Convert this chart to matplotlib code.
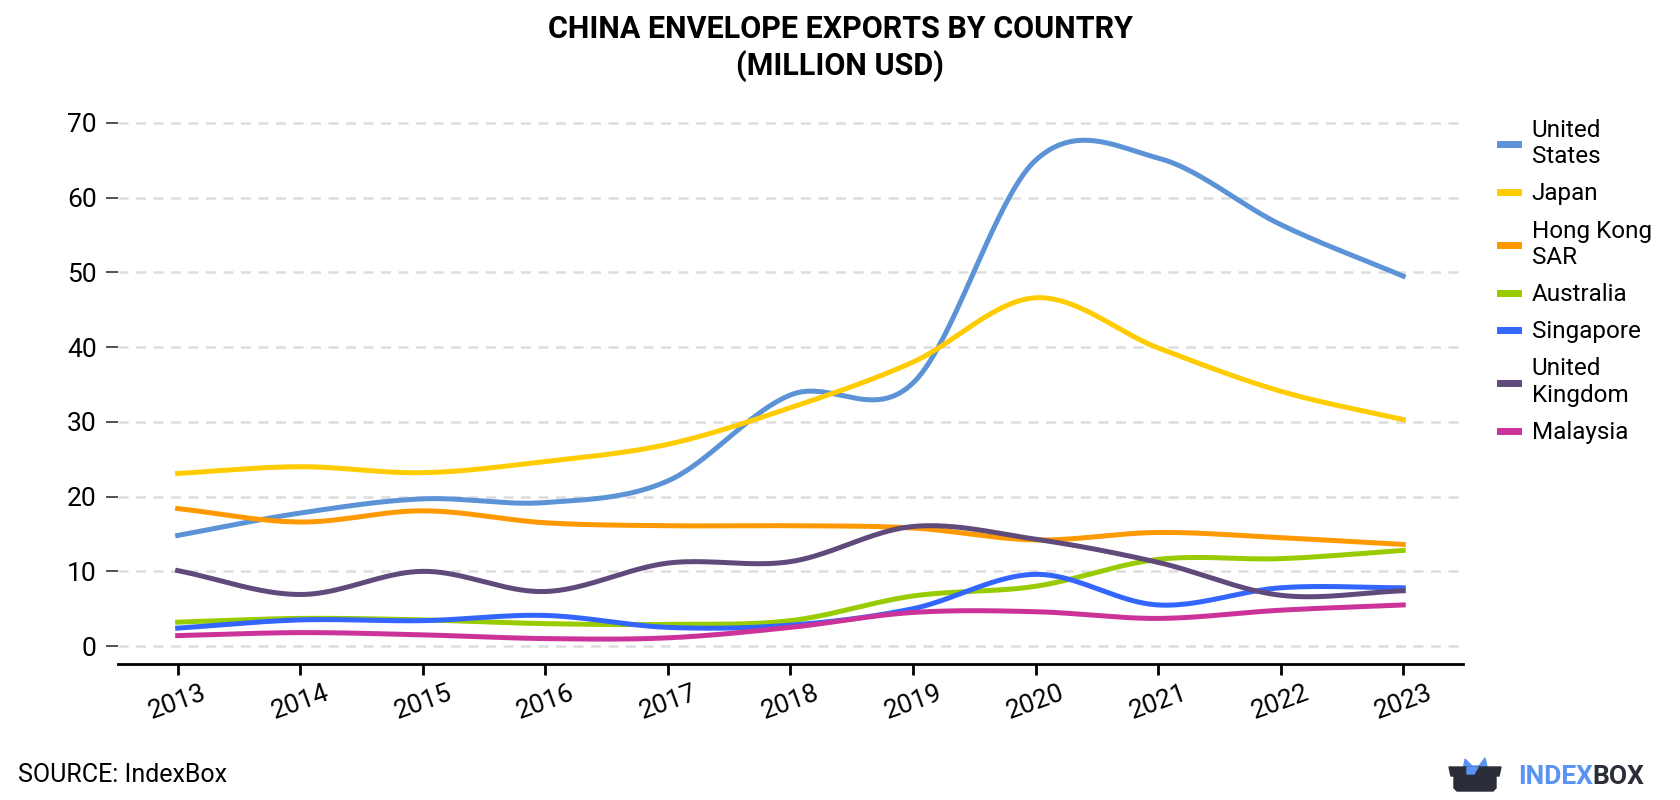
import numpy as np
import matplotlib
matplotlib.use('Agg')
import matplotlib.pyplot as plt
from matplotlib.patches import Polygon

plt.rcParams['font.family'] = ['Roboto', 'DejaVu Sans']

years = [2013, 2014, 2015, 2016, 2017, 2018, 2019, 2020, 2021, 2022, 2023]

united_states = [14.8, 17.8, 19.7, 19.2, 22.1, 33.6, 35.2, 65.0, 65.3, 56.4, 49.5]
japan = [23.1, 24.0, 23.2, 24.7, 27.0, 31.9, 38.0, 46.6, 39.9, 34.1, 30.3]
hong_kong = [18.4, 16.6, 18.1, 16.5, 16.1, 16.1, 15.8, 14.2, 15.2, 14.5, 13.6]
australia = [3.2, 3.7, 3.5, 3.0, 2.9, 3.4, 6.7, 8.0, 11.6, 11.7, 12.8]
singapore = [2.4, 3.5, 3.4, 4.1, 2.5, 2.8, 5.0, 9.6, 5.5, 7.8, 7.8]
united_kingdom = [10.1, 6.9, 10.0, 7.3, 11.1, 11.3, 16.0, 14.3, 11.2, 6.8, 7.4]
malaysia = [1.4, 1.8, 1.5, 1.0, 1.1, 2.5, 4.5, 4.6, 3.7, 4.8, 5.5]

labels = ['United\nStates', 'Japan', 'Hong Kong\nSAR', 'Australia',
          'Singapore', 'United\nKingdom', 'Malaysia']
colors = ['#5b93d6', '#ffcc00', '#ff9900', '#99cc00', '#3366ff', '#604a7b', '#cc3399']
series = [united_states, japan, hong_kong, australia, singapore, united_kingdom, malaysia]


def smooth(x, y, n=40):
    # catmull-rom style cubic hermite through the yearly points
    x = np.asarray(x, float)
    y = np.asarray(y, float)
    m = np.zeros_like(y)
    m[1:-1] = (y[2:] - y[:-2]) / (x[2:] - x[:-2])
    m[0] = y[1] - y[0]
    m[-1] = y[-1] - y[-2]
    xs_all, ys_all = [], []
    for i in range(len(x) - 1):
        h = x[i + 1] - x[i]
        t = np.linspace(0, 1, n, endpoint=(i == len(x) - 2))
        h00 = 2 * t**3 - 3 * t**2 + 1
        h10 = t**3 - 2 * t**2 + t
        h01 = -2 * t**3 + 3 * t**2
        h11 = t**3 - t**2
        xs_all.append(x[i] + t * h)
        ys_all.append(h00 * y[i] + h10 * h * m[i] + h01 * y[i + 1] + h11 * h * m[i + 1])
    return np.concatenate(xs_all), np.concatenate(ys_all)


fig = plt.figure(figsize=(16.8, 8), dpi=100)
ax = fig.add_axes([0.070, 0.17, 0.801, 0.695])

for vals, lab, col in zip(series, labels, colors):
    xs, ys = smooth(years, vals)
    ax.plot(xs, ys, color=col, lw=3.6, label=lab)

ax.set_xlim(2012.51, 2023.49)
ax.set_ylim(-2.4, 72)
ax.set_xticks(years)
ax.set_xticklabels([str(y) for y in years], rotation=20, fontsize=19)
ax.set_yticks(range(0, 71, 10))
ax.tick_params(axis='y', labelsize=19, length=9, width=1.2, color='#333333', pad=6)
ax.tick_params(axis='x', length=8, width=2, color='black', pad=4)
ax.grid(axis='y', color='#dddddd', ls=(0, (4, 3)), lw=1.8)
ax.set_axisbelow(True)
for s in ['top', 'right', 'left']:
    ax.spines[s].set_visible(False)
ax.spines['bottom'].set_linewidth(2)

leg = ax.legend(loc='upper left', bbox_to_anchor=(1.011, 1.02), frameon=False,
                fontsize=17.5, handlelength=0.75, handletextpad=0.55,
                labelspacing=0.58)
for line in leg.get_lines():
    line.set_linewidth(5)

fig.text(0.5, 0.982, 'CHINA ENVELOPE EXPORTS BY COUNTRY\n(MILLION USD)',
         ha='center', va='top', fontsize=22, fontweight='bold', linespacing=1.22)
fig.text(0.011, 0.031, 'SOURCE: IndexBox', fontsize=18, va='center')

# logo, drawn in figure pixel coordinates
lx = fig.add_axes([0, 0, 1, 1])
lx.set_xlim(0, 1680)
lx.set_ylim(800, 0)
lx.axis('off')
lx.add_patch(Polygon([[1463, 771], [1465, 759], [1472, 766], [1479, 766], [1485, 758], [1488, 771]],
                     closed=True, color='#5b93f5', zorder=1))
lx.add_patch(Polygon([[1449, 767], [1501, 767], [1499, 776], [1496, 776], [1496, 788], [1493, 791],
                      [1457, 791], [1454, 788], [1454, 776], [1451, 776]],
                     closed=True, color='#2b2d38', zorder=2))
lx.add_patch(Polygon([[1467, 767], [1478, 767], [1474, 774], [1467, 774]],
                     closed=True, color='#5b93f5', zorder=3))
t1 = lx.text(1518, 777, 'INDEX', color='#5b93f5', fontsize=19, fontweight='bold', va='center')
fig.canvas.draw()
bb = t1.get_window_extent()
x_end = bb.x1  # pixels, equal to data x since axes spans the figure
lx.text(x_end, 777, 'BOX', color='#2b2d38', fontsize=19, fontweight='bold', va='center')

fig.savefig('out.png', dpi=100)
